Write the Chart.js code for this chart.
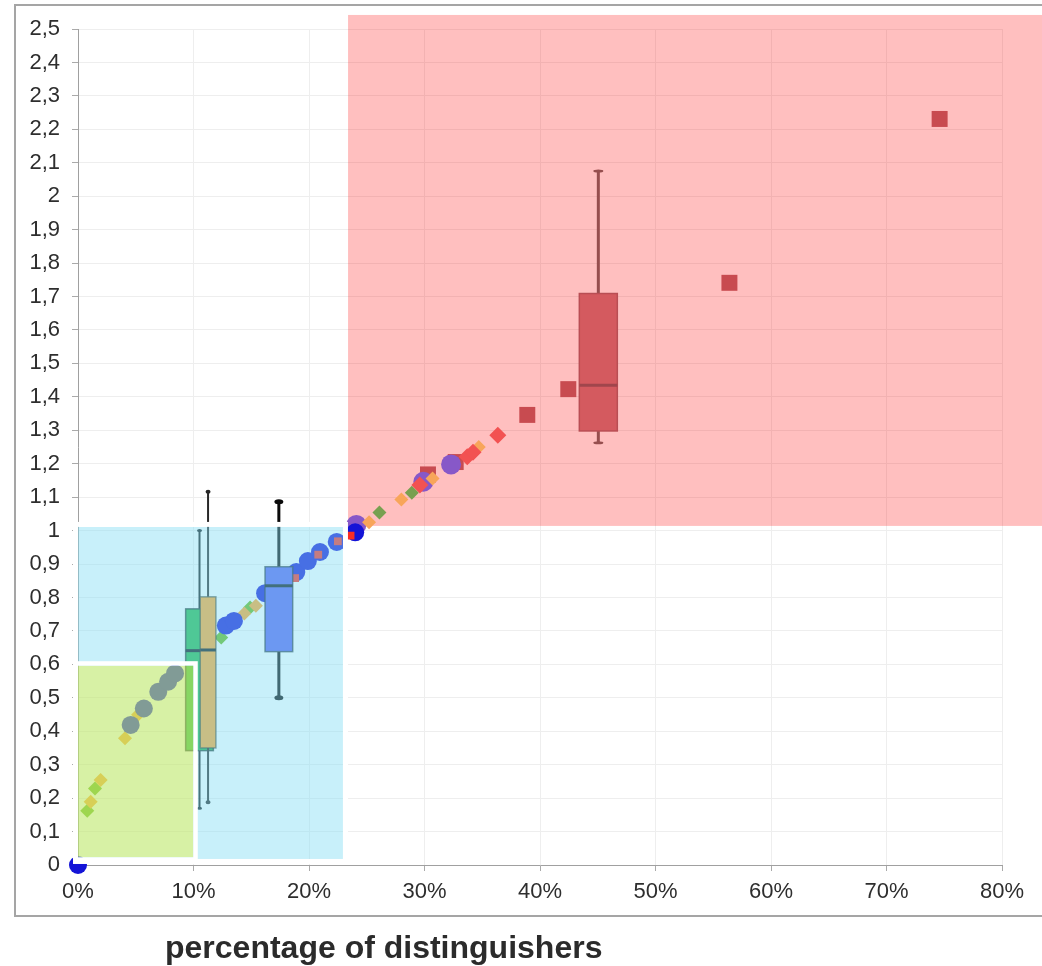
<!DOCTYPE html>
<html>
<head>
<meta charset="utf-8">
<script src="https://cdn.jsdelivr.net/npm/chart.js@4.4.1/dist/chart.umd.min.js"></script>
<style>
  html, body { margin: 0; padding: 0; background: #fff; }
  #wrap { position: relative; width: 1042px; height: 966px; overflow: hidden; }
  #c { position: absolute; left: 0; top: 0; }
  #xtitle {
    position: absolute; left: 165px; top: 931px;
    font: bold 32px "Liberation Sans", Arial, sans-serif; line-height: 32px;
    color: #2b2b2b; white-space: nowrap;
  }
</style>
</head>
<body>
<div id="wrap">
  <canvas id="c" width="1042" height="966"></canvas>
  <div id="xtitle">percentage of distinguishers</div>
</div>
<script>
// ---- axis ticks ----
const xTickValues = [0, 10, 20, 30, 40, 50, 60, 70, 80];   // percent
const yTickStep = 0.1;
const yMaxValue = 2.5;

// ---- low / mid range results (x in %, y ratio) ----
const circleX = [0, 4.56, 5.7, 6.95, 7.8, 8.4, 12.8, 13.5, 16.2, 18.9, 19.9, 20.95, 22.4, 24.0];
const circleY = [0, 0.419, 0.468, 0.518, 0.548, 0.573, 0.716, 0.73, 0.813, 0.876, 0.909, 0.936, 0.966, 0.995];

const orangeLowX = [1.1, 1.96, 4.07, 5.2, 14.4, 15.4];
const orangeLowY = [0.189, 0.254, 0.379, 0.449, 0.752, 0.775];

const greenLowX = [0.8, 1.47, 12.4, 14.9];
const greenLowY = [0.162, 0.229, 0.68, 0.77];

const redMidX = [18.8, 20.8, 22.5, 23.6];
const redMidY = [0.858, 0.928, 0.968, 0.985];

// ---- high range results ----
const purpleX = [24.1, 29.9, 32.3];
const purpleY = [1.017, 1.146, 1.198];

const redDiamondX = [29.6, 33.7, 34.2, 36.35];
const redDiamondY = [1.136, 1.221, 1.234, 1.285];

const orangeHighX = [25.2, 28.0, 30.7, 34.7];
const orangeHighY = [1.025, 1.093, 1.156, 1.25];

const greenHighX = [26.1, 28.9];
const greenHighY = [1.054, 1.113];

const squareX = [30.3, 32.7, 38.9, 42.45, 56.4, 74.6];
const squareY = [1.168, 1.205, 1.346, 1.423, 1.741, 2.231];

// ---- box plots: position (%) and five-number summaries ----
const boxX      = [10.52, 11.26, 17.39, 45.05];
const boxMin    = [0.17, 0.188, 0.50, 1.263];
const boxQ1     = [0.342, 0.35, 0.638, 1.298];
const boxMedian = [0.641, 0.643, 0.835, 1.435];
const boxQ3     = [0.766, 0.802, 0.892, 1.709];
const boxMax    = [1.0, 1.116, 1.086, 2.075];

// ---- highlighted ranges (x % range, y range) ----
const bandX0 = [0, 0, 23.38];
const bandX1 = [22.94, 9.98, 83.6];
const bandY0 = [0.018, 0.023, 1.014];
const bandY1 = [1.011, 0.596, 2.542];

// ---- styles ----
const boxStyles = [
  { width: 27.7, fill: 'rgb(36,182,73)',  border: 'rgba(20,40,40,0.75)', borderWidth: 1.5, median: 'rgb(12,22,26)', medianWidth: 3,
    whisker: 'rgb(20,26,28)', whiskerWidth: 2, capW: 5, capH: 3 },
  { width: 15.7, fill: 'rgb(255,165,45)', border: 'rgba(20,40,40,0.6)',  borderWidth: 1.5, median: 'rgb(12,22,26)', medianWidth: 3,
    whisker: 'rgb(40,40,40)', whiskerWidth: 2, capW: 5, capH: 4 },
  { width: 27.7, fill: 'rgb(88,96,240)',  border: 'rgba(20,40,40,0.7)',  borderWidth: 1.5, median: 'rgb(12,22,26)', medianWidth: 3,
    whisker: 'rgb(10,10,10)', whiskerWidth: 3, capW: 9, capH: 5 },
  { width: 38,   fill: 'rgb(212,90,95)',  border: 'rgb(185,78,84)',      borderWidth: 1.5, median: 'rgb(160,70,76)', medianWidth: 3,
    whisker: 'rgb(150,78,78)', whiskerWidth: 3, capW: 10, capH: 3 }
];
const bandFill = ['rgba(133,222,244,0.45)', 'rgba(244,241,0,0.34)', 'rgba(255,0,0,0.25)'];
const bandBorder = [5, 4.5, 0];

const tickFont = { family: '"Liberation Sans", Arial, sans-serif', size: 22 };
const fmtComma = v => (Math.round(v * 10) / 10).toString().replace('.', ',');

function pts(xs, ys) { return xs.map((x, i) => ({ x: x, y: ys[i] })); }
function series(label, xs, ys, style, color, radius) {
  return {
    label: label, data: pts(xs, ys), pointStyle: style,
    pointRadius: radius, pointHoverRadius: radius,
    backgroundColor: color, borderWidth: 0, clip: false
  };
}

function bandRect(chart, i) {
  const sx = chart.scales.x, sy = chart.scales.y;
  const l = sx.getPixelForValue(bandX0[i]), r = sx.getPixelForValue(bandX1[i]);
  const t = sy.getPixelForValue(bandY1[i]), b = sy.getPixelForValue(bandY0[i]);
  return { l: l, t: t, w: r - l, h: b - t };
}

function drawBand(ctx, chart, i) {
  const r = bandRect(chart, i);
  ctx.fillStyle = bandFill[i];
  ctx.fillRect(r.l, r.t, r.w, r.h);
  if (bandBorder[i] > 0) {
    const bw = bandBorder[i];
    ctx.strokeStyle = '#ffffff';
    ctx.lineWidth = bw;
    ctx.strokeRect(r.l - bw / 2, r.t - bw / 2, r.w + bw, r.h + bw);
  }
}

function drawBoxes(ctx, chart) {
  const sx = chart.scales.x, sy = chart.scales.y;
  for (let i = 0; i < boxX.length; i++) {
    const st = boxStyles[i];
    const cx = sx.getPixelForValue(boxX[i]);
    const half = st.width / 2;
    const yMin = sy.getPixelForValue(boxMin[i]);
    const yQ1 = sy.getPixelForValue(boxQ1[i]);
    const yMed = sy.getPixelForValue(boxMedian[i]);
    const yQ3 = sy.getPixelForValue(boxQ3[i]);
    const yMax = sy.getPixelForValue(boxMax[i]);
    // whiskers
    ctx.strokeStyle = st.whisker;
    ctx.lineWidth = st.whiskerWidth;
    ctx.beginPath();
    ctx.moveTo(cx, yQ3); ctx.lineTo(cx, yMax);
    ctx.moveTo(cx, yQ1); ctx.lineTo(cx, yMin);
    ctx.stroke();
    // whisker caps
    ctx.fillStyle = st.whisker;
    ctx.beginPath();
    ctx.ellipse(cx, yMax, st.capW / 2, st.capH / 2, 0, 0, Math.PI * 2);
    ctx.ellipse(cx, yMin, st.capW / 2, st.capH / 2, 0, 0, Math.PI * 2);
    ctx.fill();
    // box body
    ctx.fillStyle = st.fill;
    ctx.fillRect(cx - half, yQ3, st.width, yQ1 - yQ3);
    ctx.strokeStyle = st.border;
    ctx.lineWidth = st.borderWidth;
    ctx.strokeRect(cx - half, yQ3, st.width, yQ1 - yQ3);
    // median
    ctx.strokeStyle = st.median;
    ctx.lineWidth = st.medianWidth;
    ctx.beginPath();
    ctx.moveTo(cx - half, yMed); ctx.lineTo(cx + half, yMed);
    ctx.stroke();
  }
}

const layersPlugin = {
  id: 'layers',
  beforeDraw(chart) {
    const ctx = chart.ctx;
    ctx.save();
    ctx.strokeStyle = 'rgb(165,165,165)';
    ctx.lineWidth = 2;
    ctx.strokeRect(15, 5, 1100, 911);
    ctx.restore();
  },
  beforeDatasetsDraw(chart) {
    const ctx = chart.ctx;
    ctx.save();
    drawBand(ctx, chart, 2);
    ctx.restore();
  },
  afterDatasetsDraw(chart) {
    const ctx = chart.ctx;
    ctx.save();
    drawBoxes(ctx, chart);
    drawBand(ctx, chart, 0);
    drawBand(ctx, chart, 1);
    ctx.restore();
  }
};

new Chart(document.getElementById('c'), {
  type: 'scatter',
  data: {
    datasets: [
      series('red (mid)', redMidX, redMidY, 'rect', 'rgb(250,45,35)', 5.5),
      series('circles', circleX, circleY, 'circle', 'rgb(20,20,215)', 9),
      series('orange (low)', orangeLowX, orangeLowY, 'rectRot', 'rgb(255,165,40)', 7),
      series('green (low)', greenLowX, greenLowY, 'rectRot', 'rgb(100,185,20)', 7),
      series('red diamonds', redDiamondX, redDiamondY, 'rectRot', 'rgb(242,82,82)', 8.5),
      series('orange (high)', orangeHighX, orangeHighY, 'rectRot', 'rgb(248,165,90)', 7),
      series('green (high)', greenHighX, greenHighY, 'rectRot', 'rgb(120,160,80)', 7),
      series('purple circles', purpleX, purpleY, 'circle', 'rgb(135,88,200)', 10),
      series('squares', squareX, squareY, 'rect', 'rgb(200,75,80)', 11.3)
    ]
  },
  options: {
    responsive: false,
    animation: false,
    devicePixelRatio: 1,
    layout: { padding: { left: 0, top: 29, right: 40, bottom: 51 } },
    plugins: { legend: { display: false }, tooltip: { enabled: false } },
    scales: {
      x: {
        type: 'linear', min: xTickValues[0], max: xTickValues[xTickValues.length - 1],
        afterBuildTicks: s => { s.ticks = xTickValues.map(v => ({ value: v })); },
        ticks: { callback: v => v + '%', font: tickFont, color: '#2e2e2e', padding: 8, maxRotation: 0 },
        grid: { color: 'rgb(238,238,238)', tickColor: 'rgb(170,170,170)', tickLength: 6 },
        border: { color: 'rgb(160,160,160)', width: 1 },
        afterFit: s => { s.height = 50; }
      },
      y: {
        type: 'linear', min: 0, max: yMaxValue,
        ticks: { stepSize: yTickStep, callback: v => fmtComma(v), font: tickFont, color: '#2e2e2e', padding: 12 },
        grid: { color: 'rgb(238,238,238)', tickColor: 'rgb(170,170,170)', tickLength: 6 },
        border: { color: 'rgb(160,160,160)', width: 1 },
        afterFit: s => { s.width = 78; }
      }
    }
  },
  plugins: [layersPlugin]
});
</script>
</body>
</html>
